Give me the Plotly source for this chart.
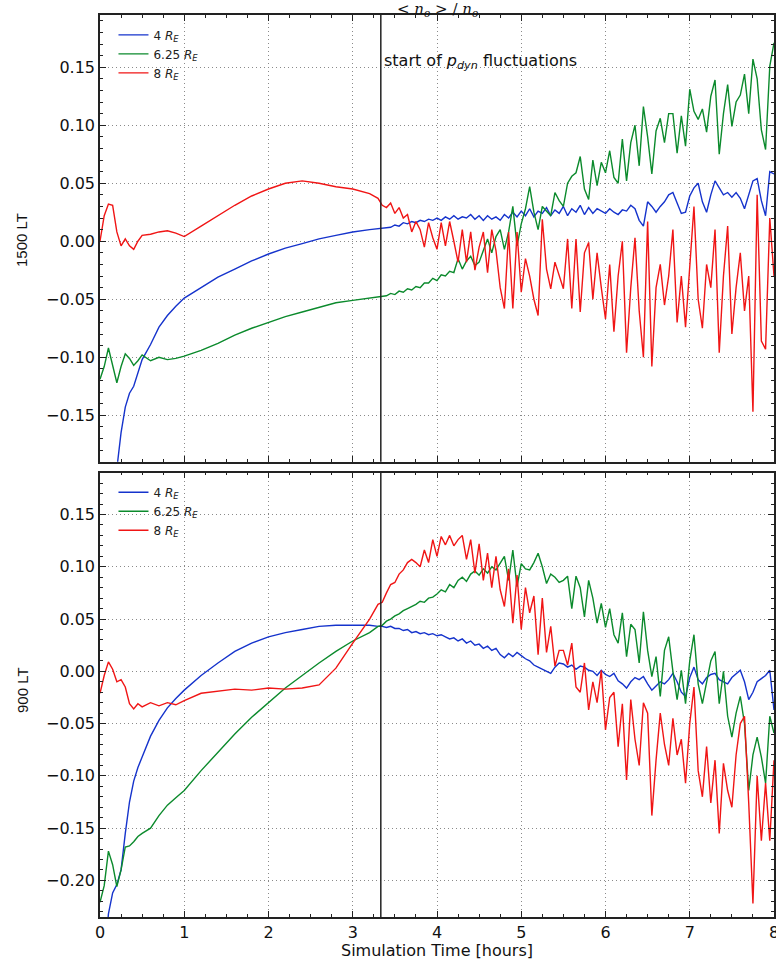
import plotly.graph_objects as go

# ---------------- data ----------------
T_START = 3.333  # start of p_dyn fluctuations [hours]

time_h = [
    0, 0.05, 0.1, 0.15, 0.2, 0.25, 0.3, 0.35, 0.4, 0.45, 0.5, 0.6, 0.7, 0.8, 0.9, 1.0,
    1.2, 1.4, 1.6, 1.8, 2.0, 2.2, 2.4, 2.6, 2.8, 3.0, 3.2, 3.3,
    3.35, 3.4, 3.45, 3.5, 3.55, 3.6, 3.65, 3.7, 3.75, 3.8, 3.85, 3.9, 3.95,
    4.0, 4.05, 4.1, 4.15, 4.2, 4.25, 4.3, 4.35, 4.4, 4.45, 4.5, 4.55, 4.6, 4.65, 4.7, 4.75, 4.8, 4.85, 4.9, 4.95,
    5.0, 5.05, 5.1, 5.15, 5.2, 5.25, 5.3, 5.35, 5.4, 5.45, 5.5, 5.55, 5.6, 5.65, 5.7, 5.75, 5.8, 5.85, 5.9, 5.95,
    6.0, 6.05, 6.1, 6.15, 6.2, 6.25, 6.3, 6.35, 6.4, 6.45, 6.5, 6.55, 6.6, 6.65, 6.7, 6.75, 6.8, 6.85, 6.9, 6.95,
    7.0, 7.05, 7.1, 7.15, 7.2, 7.25, 7.3, 7.35, 7.4, 7.45, 7.5, 7.55, 7.6, 7.65, 7.7, 7.75, 7.8, 7.85, 7.9, 7.95,
    8.0,
]

# ---- 1500 LT panel ----
lt1500_4RE = [
    -0.32, -0.29, -0.26, -0.23, -0.20, -0.165, -0.143, -0.131, -0.125, -0.113, -0.102, -0.089, -0.074, -0.064, -0.056, -0.049,
    -0.040, -0.031, -0.024, -0.017, -0.011, -0.006, -0.002, 0.002, 0.005, 0.008, 0.010, 0.011,
    0.011, 0.012, 0.012, 0.014, 0.013, 0.016, 0.015, 0.017, 0.016, 0.018, 0.017, 0.019, 0.018,
    0.020, 0.018, 0.021, 0.019, 0.022, 0.019, 0.021, 0.020, 0.023, 0.019, 0.022, 0.018, 0.022, 0.019, 0.021, 0.018, 0.023, 0.020, 0.025, 0.021,
    0.026, 0.022, 0.028, 0.021, 0.026, 0.024, 0.029, 0.022, 0.027, 0.024, 0.030, 0.022, 0.028, 0.025, 0.031, 0.023, 0.029, 0.024, 0.028, 0.026,
    0.024, 0.028, 0.025, 0.023, 0.027, 0.026, 0.031, 0.028, 0.018, 0.013, 0.034, 0.030, 0.025, 0.030, 0.034, 0.040, 0.042, 0.033, 0.024, 0.025,
    0.039, 0.046, 0.050, 0.034, 0.025, 0.040, 0.052, 0.046, 0.040, 0.042, 0.038, 0.042, 0.037, 0.028, 0.040, 0.052, 0.054, 0.035, 0.022, 0.060,
    0.058,
]
lt1500_625RE = [
    -0.119, -0.108, -0.092, -0.108, -0.122, -0.108, -0.097, -0.101, -0.107, -0.103, -0.098, -0.103, -0.100, -0.102, -0.101, -0.099,
    -0.094, -0.088, -0.081, -0.075, -0.070, -0.065, -0.061, -0.057, -0.053, -0.051, -0.049, -0.048,
    -0.048, -0.047, -0.045, -0.046, -0.043, -0.044, -0.041, -0.042, -0.039, -0.040, -0.036, -0.036, -0.032,
    -0.034, -0.029, -0.030, -0.026, -0.027, -0.015, -0.024, -0.017, -0.013, -0.021, -0.018, -0.008, 0.002, -0.010, 0.004, 0.010, -0.007, 0.008, 0.030, -0.004,
    0.015, 0.028, 0.047, 0.025, 0.010, 0.030, 0.026, 0.022, 0.042, 0.035, 0.030, 0.050, 0.056, 0.059, 0.073, 0.045, 0.036, 0.070, 0.048, 0.068,
    0.059, 0.078, 0.055, 0.050, 0.088, 0.052, 0.085, 0.100, 0.065, 0.116, 0.090, 0.058, 0.095, 0.106, 0.085, 0.110, 0.110, 0.076, 0.108, 0.082,
    0.131, 0.112, 0.105, 0.114, 0.094, 0.125, 0.139, 0.075, 0.110, 0.135, 0.099, 0.120, 0.126, 0.144, 0.110, 0.157, 0.140, 0.096, 0.079, 0.151,
    0.171,
]
lt1500_8RE = [
    0.000, 0.022, 0.032, 0.031, 0.008, -0.004, 0.002, -0.004, -0.007, 0.000, 0.005, 0.006, 0.008, 0.009, 0.007, 0.004,
    0.013, 0.022, 0.031, 0.039, 0.045, 0.050, 0.052, 0.050, 0.047, 0.045, 0.041, 0.037,
    0.031, 0.029, 0.033, 0.024, 0.029, 0.020, 0.023, 0.008, 0.017, 0.010, -0.005, 0.016, 0.003,
    -0.007, 0.016, -0.004, 0.017, 0.000, -0.018, 0.010, -0.018, 0.008, -0.025, -0.005, 0.008, -0.027, 0.010, -0.008, -0.040, -0.058, 0.008, -0.058, 0.008,
    -0.044, -0.015, -0.030, -0.050, -0.064, 0.019, -0.024, -0.041, -0.018, -0.030, -0.041, 0.002, -0.058, 0.002, -0.061, -0.010, -0.001, -0.050, -0.010, -0.040,
    -0.067, -0.020, -0.078, -0.030, 0.000, -0.096, -0.040, 0.003, -0.060, -0.100, 0.017, -0.108, -0.040, -0.020, -0.055, -0.030, 0.010, -0.070, -0.030, -0.074,
    -0.020, 0.030, -0.050, -0.075, -0.020, -0.040, 0.010, -0.096, -0.030, 0.013, -0.080, -0.040, -0.010, -0.060, -0.030, -0.147, 0.040, -0.086, -0.093, 0.020,
    -0.030,
]

# ---- 900 LT panel ----
lt900_4RE = [
    -0.32, -0.28, -0.232, -0.212, -0.204, -0.190, -0.155, -0.125, -0.105, -0.092, -0.082, -0.062, -0.047, -0.035, -0.026, -0.018,
    -0.004, 0.008, 0.019, 0.027, 0.033, 0.037, 0.040, 0.043, 0.044, 0.044, 0.044, 0.043,
    0.043, 0.042, 0.043, 0.041, 0.041, 0.039, 0.040, 0.037, 0.038, 0.036, 0.037, 0.035, 0.036,
    0.034, 0.035, 0.033, 0.031, 0.032, 0.029, 0.031, 0.027, 0.029, 0.025, 0.026, 0.022, 0.024, 0.020, 0.022, 0.016, 0.013, 0.017, 0.014, 0.018,
    0.015, 0.012, 0.010, 0.006, 0.004, 0.002, 0.000, -0.002, 0.004, 0.008, 0.007, 0.004, 0.006, 0.002, 0.005, 0.004, 0.001, 0.000, -0.004, 0.001,
    -0.003, -0.005, -0.002, -0.009, -0.012, -0.016, -0.010, -0.006, -0.008, -0.005, -0.012, -0.018, -0.014, -0.010, -0.012, -0.008, -0.002, -0.010, -0.020, -0.024,
    -0.006, 0.004, -0.008, -0.012, -0.006, -0.003, -0.002, -0.008, -0.010, -0.012, -0.006, -0.002, 0.001, -0.010, -0.027, -0.020, -0.010, -0.007, -0.004, 0.001,
    -0.037,
]
lt900_625RE = [
    -0.221, -0.205, -0.172, -0.185, -0.206, -0.190, -0.168, -0.167, -0.163, -0.158, -0.155, -0.150, -0.138, -0.128, -0.121, -0.114,
    -0.095, -0.077, -0.060, -0.044, -0.030, -0.016, -0.004, 0.008, 0.019, 0.029, 0.037, 0.043,
    0.044, 0.048, 0.050, 0.053, 0.055, 0.058, 0.060, 0.062, 0.064, 0.067, 0.066, 0.070, 0.071,
    0.074, 0.078, 0.076, 0.083, 0.080, 0.087, 0.090, 0.086, 0.093, 0.096, 0.092, 0.098, 0.094, 0.100, 0.097, 0.103, 0.110, 0.087, 0.116, 0.081,
    0.103, 0.098, 0.097, 0.104, 0.113, 0.100, 0.084, 0.093, 0.090, 0.085, 0.087, 0.091, 0.060, 0.091, 0.080, 0.052, 0.087, 0.070, 0.046, 0.065,
    0.042, 0.060, 0.035, 0.027, 0.056, 0.014, 0.045, 0.040, 0.008, 0.057, 0.020, -0.005, 0.014, -0.024, 0.020, 0.033, 0.000, -0.027, 0.001, -0.031,
    0.010, 0.035, -0.012, -0.031, -0.010, 0.010, 0.019, -0.031, 0.000, -0.043, -0.063, -0.040, -0.024, -0.050, -0.114, -0.080, -0.063, -0.082, -0.107, -0.043,
    -0.059,
]
lt900_8RE = [
    -0.021, -0.004, 0.009, 0.002, -0.010, -0.008, -0.015, -0.031, -0.036, -0.031, -0.034, -0.030, -0.033, -0.030, -0.032, -0.028,
    -0.021, -0.019, -0.017, -0.018, -0.016, -0.017, -0.016, -0.013, 0.003, 0.027, 0.050, 0.064,
    0.066, 0.075, 0.083, 0.085, 0.093, 0.097, 0.104, 0.107, 0.104, 0.100, 0.116, 0.104, 0.126,
    0.110, 0.129, 0.121, 0.130, 0.120, 0.126, 0.130, 0.107, 0.126, 0.094, 0.122, 0.087, 0.113, 0.080, 0.110, 0.078, 0.062, 0.098, 0.046, 0.092,
    0.040, 0.080, 0.056, 0.072, 0.016, 0.070, 0.018, 0.043, 0.005, 0.020, 0.020, 0.006, 0.027, -0.015, -0.020, 0.008, -0.037, -0.010, -0.030, 0.001,
    -0.056, -0.025, -0.020, -0.072, -0.031, -0.104, -0.027, -0.065, -0.090, -0.030, -0.040, -0.138, -0.085, -0.040, -0.070, -0.090, -0.045, -0.080, -0.065, -0.107,
    -0.050, -0.015, -0.095, -0.120, -0.072, -0.126, -0.085, -0.155, -0.088, -0.114, -0.130, -0.080, -0.050, -0.043, -0.126, -0.222, -0.100, -0.162, -0.107, -0.162,
    -0.085,
]

series_names = ["4 <i>R<sub>E</sub></i>", "6.25 <i>R<sub>E</sub></i>", "8 <i>R<sub>E</sub></i>"]
series_colors = ["#1533cc", "#0b8a2c", "#f01515"]
panel_titles = ["1500 LT", "900 LT"]
x_ticks = [0, 1, 2, 3, 4, 5, 6, 7, 8]
y_ticks_top = [-0.15, -0.10, -0.05, 0.00, 0.05, 0.10, 0.15]
y_ticks_bot = [-0.20, -0.15, -0.10, -0.05, 0.00, 0.05, 0.10, 0.15]

# ---------------- figure ----------------
fig = go.Figure()
top = [lt1500_4RE, lt1500_625RE, lt1500_8RE]
bot = [lt900_4RE, lt900_625RE, lt900_8RE]
for vals, name, col in zip(top, series_names, series_colors):
    fig.add_trace(go.Scatter(x=time_h, y=vals, mode="lines", name=name,
                             line=dict(color=col, width=1.4),
                             xaxis="x", yaxis="y", legend="legend"))
for vals, name, col in zip(bot, series_names, series_colors):
    fig.add_trace(go.Scatter(x=time_h, y=vals, mode="lines", name=name,
                             line=dict(color=col, width=1.4),
                             xaxis="x2", yaxis="y2", legend="legend2"))

FONT = "DejaVu Sans"
axis_common = dict(
    showline=True, linecolor="#222", linewidth=1.5, mirror="ticks",
    ticks="inside", ticklen=6, tickwidth=1, tickcolor="#222",
    showgrid=True, gridcolor="#8a8a8a", griddash="1px,3px", gridwidth=1,
    zeroline=False, tickfont=dict(family=FONT, size=16, color="#111"),
    automargin=False,
)

TOP_DOM = [0.5048, 1.0]
BOT_DOM = [0.0, 0.4926]

fig.update_layout(
    width=776, height=962, autosize=False,
    margin=dict(l=100, r=2, t=15, b=45, autoexpand=False),
    paper_bgcolor="white", plot_bgcolor="white",
    font=dict(family=FONT, size=14, color="#111"),
    xaxis=dict(**axis_common, domain=[0, 1], anchor="y", range=[0, 8], tickvals=x_ticks,
               showticklabels=False, matches="x2",
               minor=dict(dtick=0.25, ticks="inside", ticklen=3, tickcolor="#222", showgrid=False)),
    yaxis=dict(**axis_common, domain=TOP_DOM, anchor="x", range=[-0.19, 0.195],
               tickvals=y_ticks_top, tickformat=".2f",
               minor=dict(dtick=0.01, ticks="inside", ticklen=3, tickcolor="#222", showgrid=False)),
    xaxis2=dict(**axis_common, domain=[0, 1], anchor="y2", range=[0, 8], tickvals=x_ticks,
                ticklabeloverflow="allow",
                minor=dict(dtick=0.25, ticks="inside", ticklen=3, tickcolor="#222", showgrid=False)),
    yaxis2=dict(**axis_common, domain=BOT_DOM, anchor="x2", range=[-0.235, 0.19],
                tickvals=y_ticks_bot, tickformat=".2f",
                minor=dict(dtick=0.01, ticks="inside", ticklen=3, tickcolor="#222", showgrid=False)),
    legend=dict(x=0.02, y=0.994, xanchor="left", yanchor="top", bgcolor="rgba(0,0,0,0)",
                font=dict(family=FONT, size=12, color="#222"), tracegroupgap=0),
    legend2=dict(x=0.02, y=0.487, xanchor="left", yanchor="top", bgcolor="rgba(0,0,0,0)",
                 font=dict(family=FONT, size=12, color="#222"), tracegroupgap=0),
    showlegend=True,
)

# vertical marker line (start of fluctuations) in both panels
for xr, yr in [("x", "y domain"), ("x2", "y2 domain")]:
    fig.add_shape(type="line", x0=T_START, x1=T_START, y0=0, y1=1,
                  xref=xr, yref=yr, line=dict(color="#222", width=1.5))

annotations = [
    dict(text="&lt; <i>n<sub>o</sub></i> &gt; / <i>n<sub>o</sub></i>", x=0.5, y=(917 - 9) / 902,
         xref="paper", yref="paper", xanchor="center", yanchor="middle", showarrow=False,
         font=dict(family="DejaVu Serif", size=15, color="#111")),
    dict(text="start of <i>p<sub>dyn</sub></i> fluctuations", x=T_START, y=0.15,
         xref="x", yref="y", xanchor="left", yanchor="middle", xshift=1, yshift=6,
         showarrow=False, font=dict(family=FONT, size=16, color="#111")),
    dict(text=panel_titles[0], x=-0.1157, y=(917 - 240) / 902, xref="paper", yref="paper",
         xanchor="center", yanchor="middle", textangle=-90, showarrow=False,
         font=dict(family="Liberation Sans", size=15, color="#111")),
    dict(text=panel_titles[1], x=-0.1157, y=(917 - 690) / 902, xref="paper", yref="paper",
         xanchor="center", yanchor="middle", textangle=-90, showarrow=False,
         font=dict(family="Liberation Sans", size=15, color="#111")),
    dict(text="Simulation Time [hours]", x=0.5, y=(917 - 950) / 902, xref="paper", yref="paper",
         xanchor="center", yanchor="middle", showarrow=False,
         font=dict(family=FONT, size=16, color="#111")),
]
fig.update_layout(annotations=annotations)

fig.write_html("out.html")
